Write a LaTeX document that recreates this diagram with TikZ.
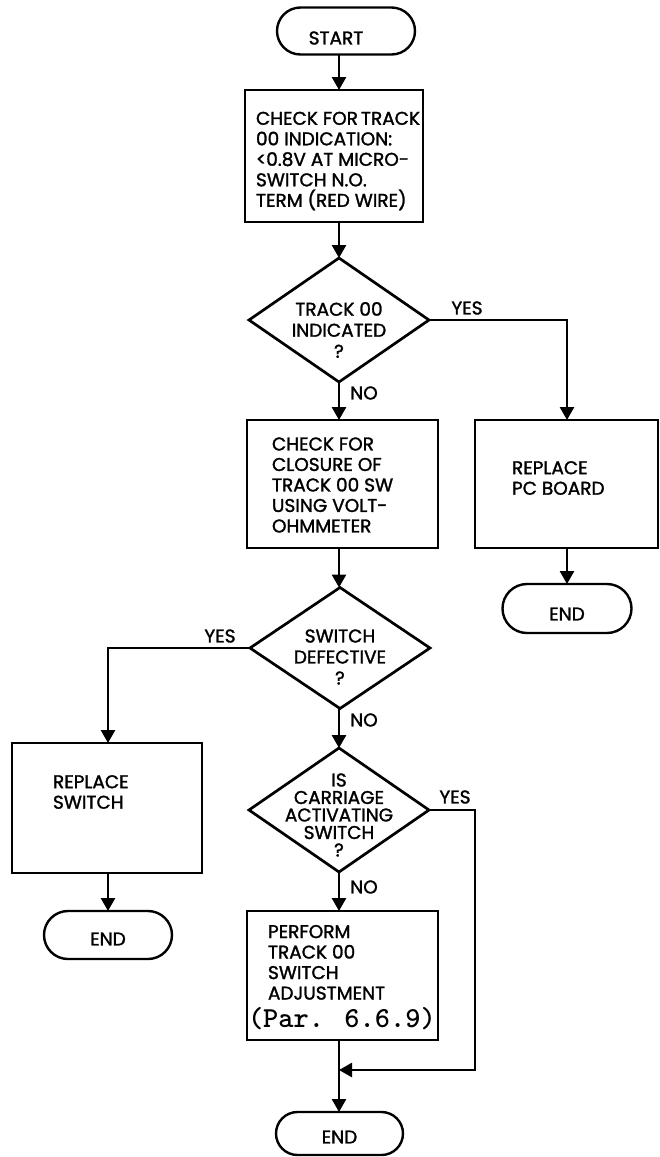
\documentclass[tikz,border=0pt]{standalone}
\usepackage{fontspec}
\setmainfont{Poppins}[FakeBold=1.5]
\usetikzlibrary{arrows.meta,shapes.geometric,shapes.misc}
\begin{document}
\begin{tikzpicture}[x=1pt,y=-1pt,
  every node/.style={inner sep=0pt,outer sep=0pt,font=\fontsize{18.5}{20.5}\selectfont},
  conn/.style={line width=2.7pt},
  arr/.style={conn,-{Triangle[width=14pt,length=13pt]}},
  term/.style={draw,line width=2.4pt,rounded rectangle},
  box/.style={draw,line width=2.7pt,rectangle},
  dec/.style={draw,line width=2.7pt,diamond},
  txt/.style={align=left,anchor=west},
  dtxt/.style={align=center,font=\fontsize{18.5}{21}\selectfont},
  lab/.style={}]
\useasboundingbox (0,0) rectangle (660,1157);
\fill[white] (0,0) rectangle (660,1157);

% shapes
\node[term,minimum width=138pt,minimum height=47pt] (start) at (346,31) {};
\node (startt) at (336,38) {START};
\node[box,minimum width=178pt,minimum height=132pt] (b1) at (334,156) {};
\node[txt] (b1t) at (256,161) {CHECK FOR\kern3pt TRACK\\00 INDICATION:\\<0.8V AT MICRO-\\SWITCH N.O.\\TERM (RED WIRE)};

\node[dec,minimum width=180pt,minimum height=124pt] (d1) at (339,320) {};
\node[dtxt] (d1t) at (339,330) {TRACK 00\\INDICATED\\?};

\node[box,minimum width=191pt,minimum height=128pt] (b2) at (342.5,484) {};
\node[txt] (b2t) at (272,485) {CHECK FOR\\CLOSURE OF\\TRACK 00 SW\\USING VOLT-\\OHMMETER};

\node[box,minimum width=183pt,minimum height=128pt] (pc) at (566.5,484) {};
\node[txt] (pct) at (512,478) {REPLACE\\PC BOARD};
\node[term,minimum width=129pt,minimum height=49pt] (end1) at (567,608.5) {};
\node (end1t) at (567,614) {END};

\node[dec,minimum width=180pt,minimum height=121pt] (d2) at (340,648) {};
\node[dtxt] (d2t) at (340,657) {SWITCH\\DEFECTIVE\\?};

\node[box,minimum width=190pt,minimum height=130pt] (rs) at (107,808) {};
\node[txt] (rst) at (53,792) {REPLACE\\SWITCH};
\node[term,minimum width=128pt,minimum height=48pt] (end2) at (108,935) {};
\node (end2t) at (108,939) {END};

\node[dec,minimum width=180pt,minimum height=124pt] (d3) at (339,810) {};
\node[dtxt,font=\fontsize{18.5}{17.5}\selectfont] (d3t) at (339,815) {IS\\CARRIAGE\\ACTIVATING\\SWITCH\\?};

\node[box,minimum width=191pt,minimum height=129pt] (pf) at (342.5,975.5) {};
\node[txt,anchor=north west] (pft) at (268,925) {PERFORM\\TRACK 00\\SWITCH\\ADJUSTMENT};
\node[anchor=west,font=\fontsize{29}{30}\ttfamily\bfseries] (par) at (248,1019) {(Par. 6.6.9)};

\node[term,minimum width=127pt,minimum height=43pt] (end3) at (339.5,1133.5) {};
\node (end3t) at (339.5,1137) {END};

\coordinate (j) at (339,1070);

% connectors
\draw[arr] (start.south -| d1.north) -- (b1.north -| d1.north);
\draw[arr] (b1.south -| d1.north) -- (d1.north);
\draw[arr] (d1.east) -| (pc.north -| end1.north);
\node[lab] (y1) at (467,308) {YES};
\draw[arr] (d1.south) -- (b2.north -| d1.south);
\node[lab] (n1) at (364,393) {NO};
\draw[arr] (pc.south -| end1.north) -- (end1.north);
\draw[arr] (b2.south -| d1.south) -- (d2.north -| d1.south);
\draw[arr] (d2.west) -| (rs.north -| end2.north);
\node[lab] (y2) at (220,636) {YES};
\draw[arr] (rs.south -| end2.north) -- (end2.north);
\draw[arr] (d2.south -| d3.south) -- (d3.north);
\node[lab] (n2) at (364,720) {NO};
\draw[arr] (d3.south) -- (pf.north -| d3.south);
\node[lab] (n3) at (364,887) {NO};
\draw[arr] (d3.east) -- ++(46,0) |- (j);
\node[lab] (y3) at (455,797) {YES};
\draw[arr] (pf.south -| j) -- (end3.north -| j);
\end{tikzpicture}
\end{document}
